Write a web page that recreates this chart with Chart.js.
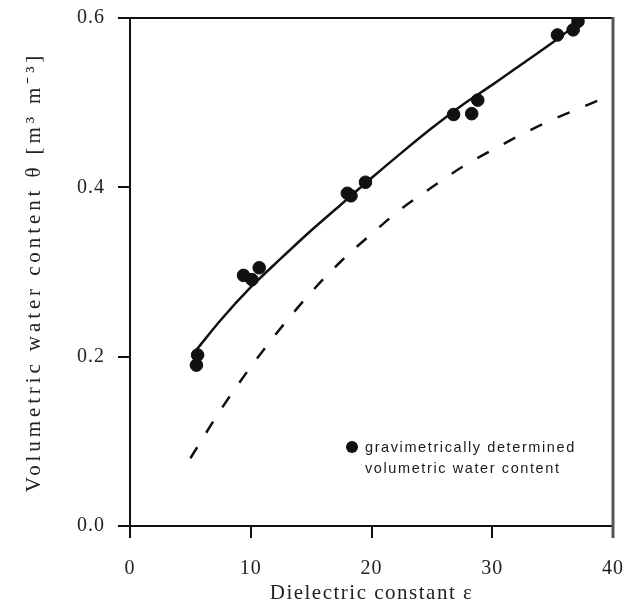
<!DOCTYPE html>
<html>
<head>
<meta charset="utf-8">
<script src="https://cdn.jsdelivr.net/npm/chart.js@4/dist/chart.umd.min.js"></script>
<style>
  html, body { margin: 0; padding: 0; background: #ffffff; }
  #wrap { width: 625px; height: 609px; position: relative; }
</style>
</head>
<body>
<div id="wrap"><canvas id="c"></canvas></div>
<script>
// Measured points (gravimetrically determined volumetric water content)
const measuredEps   = [5.5, 5.6, 9.4, 10.1, 10.7, 18.0, 18.3, 19.5, 26.8, 28.3, 28.8, 35.4, 36.7, 37.1];
const measuredTheta = [0.190, 0.202, 0.296, 0.291, 0.305, 0.393, 0.390, 0.406, 0.486, 0.487, 0.503, 0.580, 0.586, 0.596];

// Solid calibration curve
const fitEps   = [5.5, 7.5, 10, 12.5, 15, 17.5, 20, 22.5, 25, 27.5, 30, 32.5, 35, 37.5];
const fitTheta = [0.208, 0.243, 0.282, 0.316, 0.349, 0.380, 0.411, 0.441, 0.470, 0.497, 0.521, 0.546, 0.571, 0.598];

// Dashed reference curve
const refEps   = [5, 7.5, 10, 12.5, 15, 17.5, 20, 22.5, 25, 27.5, 30, 32.5, 35, 37.5, 40];
const refTheta = [0.080, 0.137, 0.188, 0.234, 0.276, 0.313, 0.345, 0.375, 0.400, 0.424, 0.444, 0.463, 0.480, 0.495, 0.510];

// Axis ticks
const xTicks = [0, 10, 20, 30, 40];
const yTicks = [0.0, 0.2, 0.4, 0.6];

const xTitle = 'Dielectric constant ε';
const yTitle = 'Volumetric water content θ [m³ m⁻³]';
const legendLines = ['gravimetrically determined', 'volumetric water content'];

const pts = (xs, ys) => xs.map((x, i) => ({ x: x, y: ys[i] }));

const serif = '"Liberation Serif", "Times New Roman", serif';

function patchSpacing(scale, labelSp, titleSp) {
  if (scale.__patched) return;
  scale.__patched = true;
  const oLabels = scale.drawLabels;
  const oTitle = scale.drawTitle;
  scale.drawLabels = function (a) {
    const ctx = this.ctx; ctx.save(); ctx.letterSpacing = labelSp; oLabels.call(this, a); ctx.restore();
  };
  scale.drawTitle = function (a) {
    const ctx = this.ctx; ctx.save(); ctx.letterSpacing = titleSp; oTitle.call(this, a); ctx.restore();
  };
}

const decor = {
  id: 'decor',
  afterUpdate(chart) {
    patchSpacing(chart.scales.x, '1px', '1.5px');
    patchSpacing(chart.scales.y, '1px', '3.9px');
  },
  afterDraw(chart) {
    const { ctx, chartArea: a } = chart;
    ctx.save();
    // top frame line
    ctx.strokeStyle = '#111';
    ctx.lineWidth = 2;
    ctx.beginPath();
    ctx.moveTo(a.left, a.top);
    ctx.lineTo(a.right, a.top);
    ctx.stroke();
    // right frame line
    ctx.strokeStyle = '#555';
    ctx.lineWidth = 3;
    ctx.beginPath();
    ctx.moveTo(a.right, a.top - 1);
    ctx.lineTo(a.right, a.bottom + 12);
    ctx.stroke();
    // legend
    const lx = a.left + 222, ly = a.top + 429;
    ctx.fillStyle = '#111';
    ctx.beginPath();
    ctx.arc(lx, ly, 6, 0, Math.PI * 2);
    ctx.fill();
    ctx.font = '14.5px "Liberation Sans", Arial, sans-serif';
    ctx.letterSpacing = '1.6px';
    ctx.textBaseline = 'middle';
    ctx.textAlign = 'left';
    ctx.fillStyle = '#1a1a1a';
    ctx.fillText(legendLines[0], lx + 13, ly + 1);
    ctx.fillText(legendLines[1], lx + 13, ly + 22);
    ctx.restore();
  }
};

new Chart(document.getElementById('c'), {
  type: 'scatter',
  data: {
    datasets: [
      {
        label: 'measured',
        data: pts(measuredEps, measuredTheta),
        backgroundColor: '#111',
        borderColor: '#111',
        pointRadius: 6.3,
        pointHoverRadius: 6.3,
        showLine: false,
        order: 0
      },
      {
        label: 'calibration',
        data: pts(fitEps, fitTheta),
        showLine: true,
        borderColor: '#111',
        borderWidth: 2.5,
        pointRadius: 0,
        cubicInterpolationMode: 'monotone',
        fill: false,
        order: 1
      },
      {
        label: 'reference',
        data: pts(refEps, refTheta),
        showLine: true,
        borderColor: '#111',
        borderWidth: 2.5,
        borderDash: [13, 17],
        pointRadius: 0,
        cubicInterpolationMode: 'monotone',
        fill: false,
        order: 2
      }
    ]
  },
  options: {
    responsive: true,
    maintainAspectRatio: false,
    animation: false,
    events: [],
    layout: { padding: { top: 18, right: 12, left: 0, bottom: 0 } },
    plugins: {
      legend: { display: false },
      tooltip: { enabled: false }
    },
    scales: {
      x: {
        type: 'linear',
        min: 0, max: 40,
        afterBuildTicks: (s) => { s.ticks = xTicks.map(v => ({ value: v })); },
        afterFit: (s) => { s.height = 83; s.paddingLeft = 0; s.paddingRight = 0; },
        ticks: {
          color: '#222',
          font: { family: serif, size: 20 },
          padding: 19,
          maxRotation: 0,
          callback: (v) => String(v)
        },
        grid: { drawOnChartArea: false, drawTicks: true, tickLength: 12, color: '#111', lineWidth: 2 },
        border: { display: true, color: '#111', width: 2 },
        title: {
          display: true,
          text: xTitle,
          color: '#222',
          font: { family: serif, size: 21 },
          padding: { top: 0, bottom: 3 }
        }
      },
      y: {
        type: 'linear',
        min: 0, max: 0.6,
        afterBuildTicks: (s) => { s.ticks = yTicks.map(v => ({ value: v })); },
        afterFit: (s) => { s.width = 130; s.paddingTop = 0; s.paddingBottom = 0; },
        ticks: {
          color: '#222',
          font: { family: serif, size: 20 },
          padding: 13,
          callback: (v) => Number(v).toFixed(1)
        },
        grid: { drawOnChartArea: false, drawTicks: true, tickLength: 12, color: '#111', lineWidth: 2 },
        border: { display: true, color: '#111', width: 2 },
        title: {
          display: true,
          text: yTitle,
          color: '#222',
          font: { family: serif, size: 21 },
          padding: { top: 22, bottom: 0 }
        }
      }
    }
  },
  plugins: [decor]
});
</script>
</body>
</html>
